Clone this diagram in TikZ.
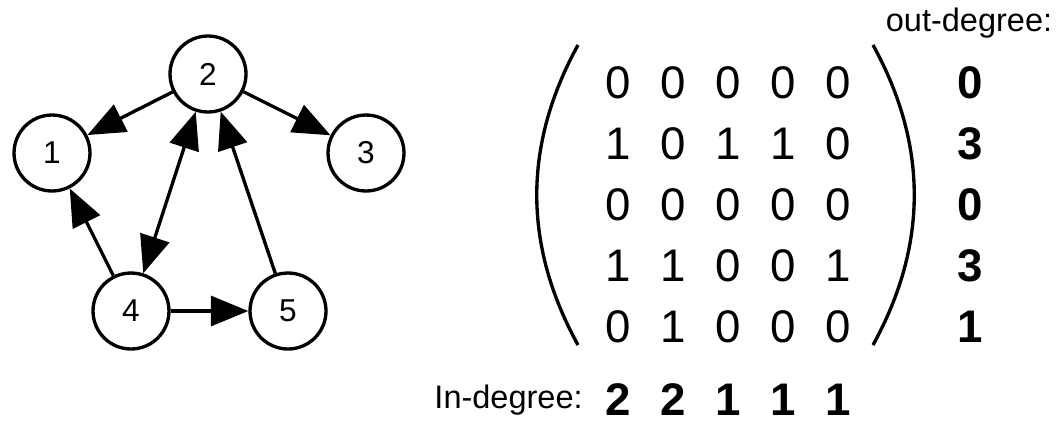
\documentclass[tikz,border=0pt]{standalone}
\usepackage{fontspec}
\setmainfont{Liberation Sans}
\usetikzlibrary{arrows.meta}

\tikzset{
  vertex/.style={draw, circle, line width=1.9pt, minimum size=1.52cm, inner sep=0pt, font=\fontsize{18}{21}\selectfont},
  edge/.style={line width=1.9pt, ->},
  entry/.style={inner sep=0pt, font=\fontsize{26}{30}\selectfont},
  degree/.style={inner sep=0pt, font=\fontsize{26}{30}\selectfont\bfseries},
  caption/.style={inner sep=0pt, font=\fontsize{18.5}{22}\selectfont},
}

\begin{document}
\begin{tikzpicture}[x=0.02cm, y=-0.02cm, >={Triangle[length=0.75cm,width=0.6cm]}]
    \useasboundingbox (0,0) rectangle (1060,424);

    % graph
    \node[vertex] (n1) at (52,153) {1};
    \node[vertex] (n2) at (208,74) {2};
    \node[vertex] (n3) at (366,153) {3};
    \node[vertex] (n4) at (131,311) {4};
    \node[vertex] (n5) at (288,311) {5};

    \draw[edge] (n2) -- (n1);
    \draw[edge] (n2) -- (n3);
    \draw[edge, <->] (n4) -- (n2);
    \draw[edge] (n5) -- (n2);
    \draw[edge] (n4) -- (n1);
    \draw[edge] (n4) -- (n5);

    % adjacency matrix
    \foreach \row [count=\i] in {{0,0,0,0,0},{1,0,1,1,0},{0,0,0,0,0},{1,1,0,0,1},{0,1,0,0,0}} {
        \foreach \v [count=\j] in \row {
            \node[entry] (m\i\j) at ({563+55*\j},{22+61*\i}) {\v};
        }
    }
    \draw[line width=1.9pt] (578,45) .. controls (523,145) and (523,245) .. (578,345);
    \draw[line width=1.9pt] (873,45) .. controls (928,145) and (928,245) .. (873,345);

    % degrees
    \node[caption] (outlabel) at (969,23) {out-degree:};
    \foreach \d [count=\i] in {0,3,0,3,1}
        \node[degree] (out\i) at (970,{22+61*\i}) {\d};
    \node[caption, anchor=east] (inlabel) at (583,400) {In-degree:};
    \foreach \d [count=\j] in {2,2,1,1,1}
        \node[degree] (in\j) at ({563+55*\j},400) {\d};
\end{tikzpicture}
\end{document}
